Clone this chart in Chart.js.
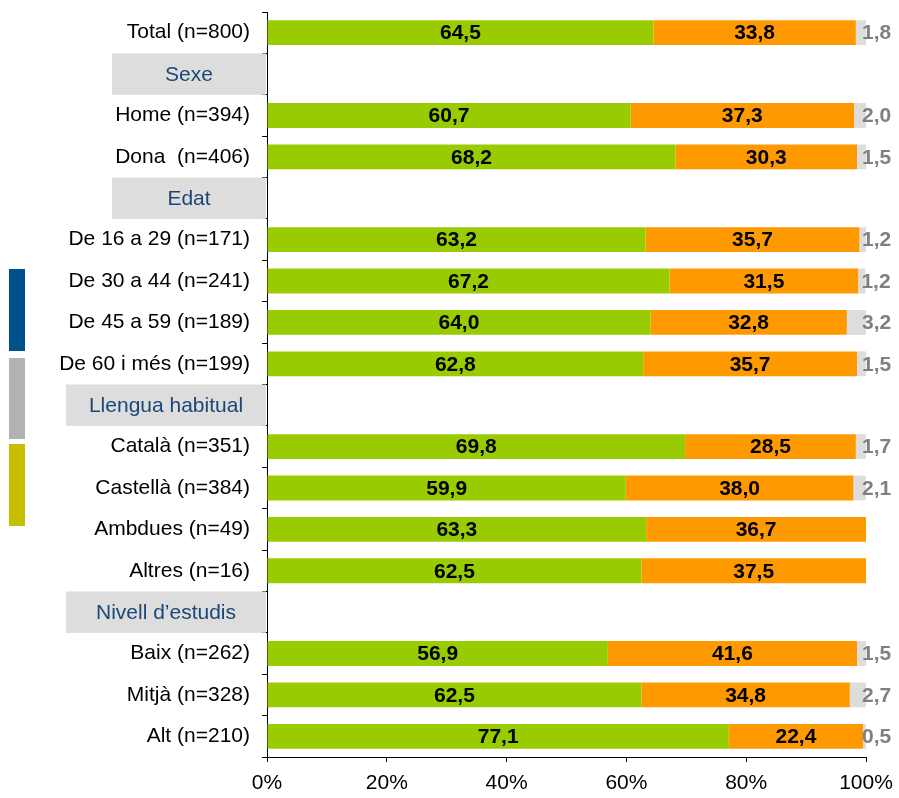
<!DOCTYPE html>
<html>
<head>
<meta charset="utf-8">
<script src="https://cdn.jsdelivr.net/npm/chart.js@4"></script>
<style>
  html, body { margin: 0; padding: 0; background: #fff; }
  canvas { display: block; }
</style>
</head>
<body>
<canvas id="chart" width="899" height="798"></canvas>
<script>
// ---- data ----
const categories = [
  'Total (n=800)', 'Sexe', 'Home (n=394)', 'Dona  (n=406)', 'Edat',
  'De 16 a 29 (n=171)', 'De 30 a 44 (n=241)', 'De 45 a 59 (n=189)', 'De 60 i més (n=199)',
  'Llengua habitual', 'Català (n=351)', 'Castellà (n=384)', 'Ambdues (n=49)', 'Altres (n=16)',
  'Nivell d\u2019estudis', 'Baix (n=262)', 'Mitjà (n=328)', 'Alt (n=210)'
];
const headerRows = ['Sexe', 'Edat', 'Llengua habitual', 'Nivell d\u2019estudis'];
const seriesNames = ['Sí', 'No', 'NS/NC'];
const greenValues  = [64.5, null, 60.7, 68.2, null, 63.2, 67.2, 64.0, 62.8, null, 69.8, 59.9, 63.3, 62.5, null, 56.9, 62.5, 77.1];
const orangeValues = [33.8, null, 37.3, 30.3, null, 35.7, 31.5, 32.8, 35.7, null, 28.5, 38.0, 36.7, 37.5, null, 41.6, 34.8, 22.4];
const greyValues   = [1.8, null, 2.0, 1.5, null, 1.2, 1.2, 3.2, 1.5, null, 1.7, 2.1, null, null, null, 1.5, 2.7, 0.5];
const xTickValues  = [0, 20, 40, 60, 80, 100];

// ---- styles ----
const FONT = '"Liberation Sans", Arial, sans-serif';
const COLORS = ['#99cc00', '#ff9900', '#dddddd'];
const headerBoxLeft = { 'Sexe': 112, 'Edat': 112, 'Llengua habitual': 66, 'Nivell d\u2019estudis': 66 };

const fmt = v => v.toFixed(1).replace('.', ',');

// header boxes, side bars, value labels
const decorPlugin = {
  id: 'decor',
  afterDraw(chart) {
    const ctx = chart.ctx;
    const y = chart.scales.y;
    const area = chart.chartArea;
    const step = (area.bottom - area.top) / categories.length;

    // side decoration
    ctx.save();
    ctx.fillStyle = '#00508c'; ctx.fillRect(9, 269, 16, 82);
    ctx.fillStyle = '#b3b3b3'; ctx.fillRect(9, 358, 16, 81);
    ctx.fillStyle = '#c8be00'; ctx.fillRect(9, 444, 16, 82);

    // section headers
    categories.forEach((c, i) => {
      if (!headerRows.includes(c)) return;
      const cy = y.getPixelForValue(i);
      const left = headerBoxLeft[c];
      ctx.fillStyle = '#dddddd';
      ctx.fillRect(left, cy - step / 2, area.left - left - 1, step);
      ctx.fillStyle = '#1b4777';
      ctx.font = '21px ' + FONT;
      ctx.textAlign = 'center';
      ctx.textBaseline = 'middle';
      ctx.fillText(c, (left + area.left - 1) / 2, cy + 1);
    });

    // value labels
    ctx.font = 'bold 21px ' + FONT;
    ctx.textBaseline = 'middle';
    chart.data.datasets.forEach((ds, di) => {
      const meta = chart.getDatasetMeta(di);
      meta.data.forEach((el, i) => {
        const v = ds.data[i];
        if (v === null || v === undefined) return;
        if (di < 2) {
          ctx.fillStyle = '#000';
          ctx.textAlign = 'center';
          ctx.fillText(fmt(v), (el.x + el.base) / 2, el.y + 1);
        } else {
          ctx.fillStyle = '#808080';
          ctx.textAlign = 'left';
          ctx.fillText(fmt(v), Math.min(el.x, area.right) - 4, el.y + 1);
        }
      });
    });
    ctx.restore();
  }
};

new Chart(document.getElementById('chart'), {
  type: 'bar',
  data: {
    labels: categories,
    datasets: [
      { label: seriesNames[0], data: greenValues, backgroundColor: COLORS[0] },
      { label: seriesNames[1], data: orangeValues, backgroundColor: COLORS[1] },
      { label: seriesNames[2], data: greyValues, backgroundColor: COLORS[2] }
    ]
  },
  options: {
    indexAxis: 'y',
    responsive: false,
    devicePixelRatio: 1,
    animation: false,
    layout: { padding: { top: 0, right: 33, left: 0, bottom: 0 } },
    datasets: { bar: { barPercentage: 0.6, categoryPercentage: 1, borderWidth: 0 } },
    plugins: { legend: { display: false }, tooltip: { enabled: false } },
    scales: {
      x: {
        stacked: true,
        min: 0,
        max: 100,
        afterBuildTicks: s => { s.ticks = xTickValues.map(v => ({ value: v })); },
        afterFit: s => { s.height = 41; s.paddingLeft = 0; s.paddingRight = 0; },
        grid: { drawOnChartArea: false, tickLength: 5, color: '#000' },
        border: { color: '#000' },
        ticks: {
          color: '#000',
          padding: 9,
          font: { family: FONT, size: 21 },
          callback: v => v + '%'
        }
      },
      y: {
        stacked: true,
        afterFit: s => { s.width = 267; s.paddingTop = 12; s.paddingBottom = 0; },
        grid: { drawOnChartArea: false, tickLength: 5, color: '#000', offset: true },
        border: { color: '#000' },
        ticks: {
          color: '#000',
          padding: 12,
          autoSkip: false,
          font: { family: FONT, size: 21 },
          callback: function (v) {
            const l = this.getLabelForValue(v);
            return headerRows.includes(l) ? '' : l;
          }
        }
      }
    }
  },
  plugins: [decorPlugin]
});
</script>
</body>
</html>
